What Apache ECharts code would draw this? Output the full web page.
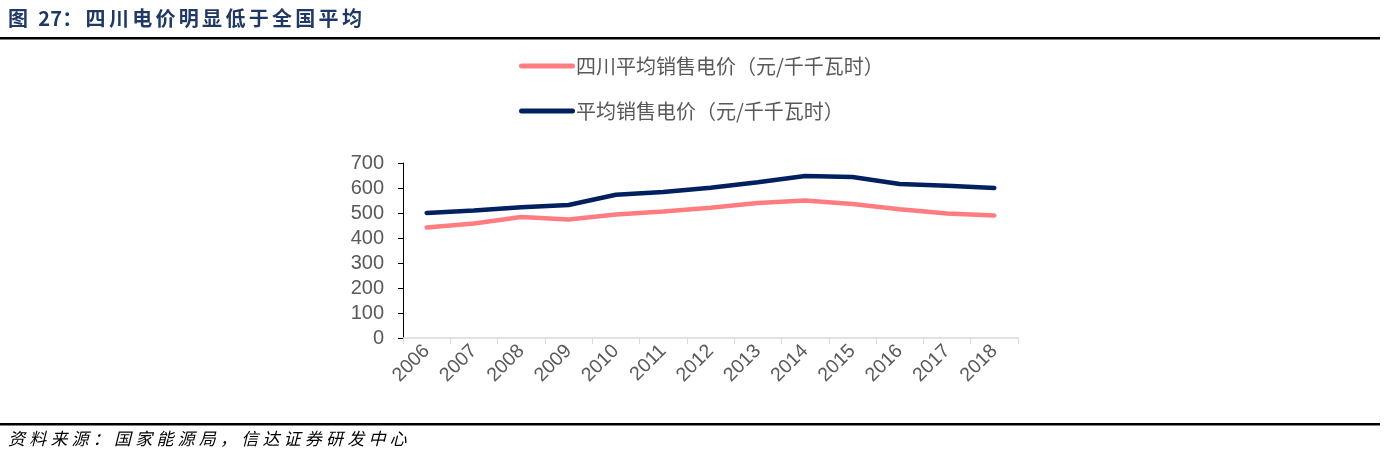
<!DOCTYPE html>
<html><head><meta charset="utf-8">
<script src="https://cdn.jsdelivr.net/npm/echarts@6/dist/echarts.min.js"></script>
<style>html,body{margin:0;padding:0;background:#fff}#c{width:1390px;height:456px}</style>
</head><body><div id="c"></div>
<script>
const years = ['2006','2007','2008','2009','2010','2011','2012','2013','2014','2015','2016','2017','2018'];
const sichuan = [442, 458, 484, 474, 494, 506, 521, 540, 550, 536, 515, 498, 490];
const national = [500, 510, 523, 532, 573, 584, 601, 623, 648, 644, 616, 609, 600];
const yTicks = [0, 100, 200, 300, 400, 500, 600, 700];
const seriesNames = ['四川平均销售电价（元/千千瓦时）', '平均销售电价（元/千千瓦时）'];
const titleText = '图 27：四川电价明显低于全国平均';
const sourceText = '资料来源：国家能源局，信达证券研发中心';

const cjk = '"Noto Sans CJK SC", "Liberation Sans", Arial, sans-serif';

// lay out text character by character to reproduce letter spacing
function spacedText(text, x, y, font, fill, advanceFn) {
  const els = [];
  let cx = x;
  for (const ch of text) {
    els.push({type: 'text', x: cx, y: y, style: {text: ch, font: font, fill: fill}});
    cx += advanceFn(ch);
  }
  return els;
}
const titleEls = spacedText(titleText, 8, 8, 'bold 20px ' + cjk, '#1f3864',
  ch => ch === ' ' ? 7 : (/[0-9]/.test(ch) ? 12 : 23.3));
const srcEls = spacedText(sourceText, 8, 430, 'italic 17px ' + cjk, '#000', ch => 21.2);

const chart = echarts.init(document.getElementById('c'), null, {renderer: 'canvas'});
chart.setOption({
  animation: false,
  backgroundColor: '#fff',
  graphic: [
    ...titleEls,
    {type: 'rect', shape: {x: 0, y: 37, width: 1380, height: 2.5}, style: {fill: '#000'}},
    {type: 'rect', shape: {x: 0, y: 423, width: 1380, height: 2.5}, style: {fill: '#000'}},
    ...srcEls
  ],
  legend: {
    orient: 'vertical', left: 514, top: 51, itemGap: 25,
    itemWidth: 56, itemHeight: 5,
    textStyle: {fontSize: 20, color: '#595959', fontFamily: cjk, padding: [0,0,0,-4]},
    data: seriesNames.map(n => ({name: n, icon: 'path://M2.5,0 L53.5,0 A2.5,2.5 0 0 1 53.5,5 L2.5,5 A2.5,2.5 0 0 1 2.5,0 Z'}))
  },
  grid: {left: 403, right: 372, top: 163, bottom: 118, containLabel: false},
  xAxis: {
    type: 'category', data: years, boundaryGap: true,
    axisLine: {lineStyle: {color: '#d9d9d9', width: 1.5}},
    axisTick: {show: true, length: 6, lineStyle: {color: '#d9d9d9'}},
    axisLabel: {rotate: 45, fontSize: 19.5, color: '#595959', fontFamily: '"Liberation Sans", Arial, sans-serif', margin: 10}
  },
  yAxis: {
    type: 'value', min: 0, max: 700, interval: 100,
    axisLine: {show: true, lineStyle: {color: '#000', width: 1}},
    axisTick: {show: true, length: 5, lineStyle: {color: '#000'}},
    splitLine: {show: false},
    axisLabel: {fontSize: 20, color: '#595959', fontFamily: '"Liberation Sans", Arial, sans-serif', margin: 19}
  },
  series: [
    {name: seriesNames[0], type: 'line', data: sichuan, symbol: 'none', lineStyle: {color: '#ff7c80', width: 4.5, cap: 'round'}, itemStyle: {color: '#ff7c80'}},
    {name: seriesNames[1], type: 'line', data: national, symbol: 'none', lineStyle: {color: '#002060', width: 4.5, cap: 'round'}, itemStyle: {color: '#002060'}}
  ]
});
</script></body></html>
